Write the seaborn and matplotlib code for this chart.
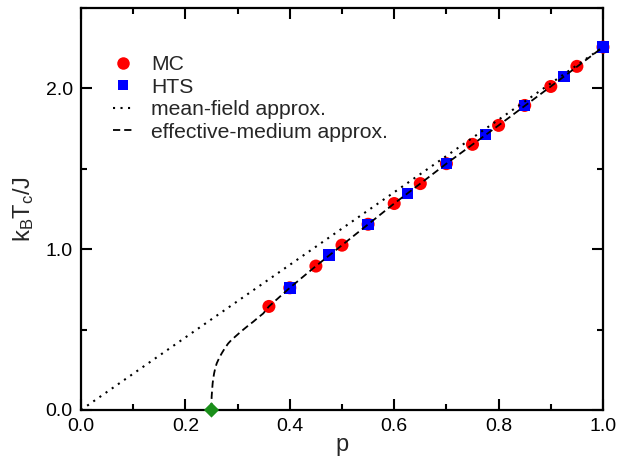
import numpy as np
import pandas as pd
import matplotlib
matplotlib.use("Agg")
import matplotlib.pyplot as plt
import seaborn as sns
from matplotlib.ticker import MultipleLocator, FormatStrFormatter
from matplotlib.lines import Line2D

# ---- data ----
mc_p = [0.36, 0.40, 0.45, 0.50, 0.55, 0.60, 0.65, 0.70, 0.75, 0.80, 0.85, 0.90, 0.95, 1.00]
mc_t = [0.644, 0.760, 0.895, 1.025, 1.155, 1.284, 1.408, 1.532, 1.652, 1.770, 1.894, 2.012, 2.137, 2.257]

hts_p = [0.40, 0.475, 0.55, 0.625, 0.70, 0.775, 0.85, 0.925, 1.00]
hts_t = [0.760, 0.963, 1.155, 1.346, 1.532, 1.712, 1.894, 2.075, 2.257]

mf_p = [0.0, 1.0]
mf_t = [0.0, 2.257]

ema_p = [0.248, 0.2500, 0.2503, 0.2512, 0.2522, 0.2535, 0.255, 0.2572, 0.260, 0.2645,
         0.2695, 0.2755, 0.282, 0.288, 0.295, 0.303, 0.311, 0.320, 0.330, 0.339, 0.349,
         0.36, 0.40, 0.45, 0.50, 0.60, 0.70, 0.80, 0.90, 1.00]
ema_t = [0.0, 0.040, 0.083, 0.125, 0.166, 0.198, 0.228, 0.260, 0.290, 0.322,
         0.352, 0.384, 0.414, 0.435, 0.455, 0.478, 0.500, 0.524, 0.549, 0.574, 0.600,
         0.644, 0.760, 0.895, 1.025, 1.284, 1.532, 1.770, 2.012, 2.257]

pc_p = [0.25]
pc_t = [0.0]

labels = ["MC", "HTS", "mean-field approx.", "effective-medium approx."]

# ---- style ----
sns.set_theme(style="ticks")
plt.rcParams['font.family'] = ['Liberation Sans', 'DejaVu Sans']
plt.rcParams['mathtext.default'] = 'regular'

fig = plt.figure(figsize=(6.17, 4.57), dpi=100)
ax = fig.add_axes([81/617, 1 - 410/457, (603 - 81)/617, (410 - 8)/457])

df_mf = pd.DataFrame({"p": mf_p, "t": mf_t})
df_ema = pd.DataFrame({"p": ema_p, "t": ema_t})
df_mc = pd.DataFrame({"p": mc_p, "t": mc_t})
df_hts = pd.DataFrame({"p": hts_p, "t": hts_t})
df_pc = pd.DataFrame({"p": pc_p, "t": pc_t})

MF_DASH = (1.0, 2.6)
EMA_DASH = (4.0, 2.2)

sns.lineplot(data=df_mf, x="p", y="t", ax=ax, color="black", lw=1.5,
             sort=False)
mf_line = ax.lines[-1]
mf_line.set_dashes(MF_DASH)
sns.lineplot(data=df_ema, x="p", y="t", ax=ax, color="black", lw=1.3,
             sort=False)
ema_line = ax.lines[-1]
ema_line.set_dashes(EMA_DASH)

sns.scatterplot(data=df_mc, x="p", y="t", ax=ax, color="#ff0000", marker="o",
                s=88, edgecolor="none", zorder=3, clip_on=False)
sns.scatterplot(data=df_hts, x="p", y="t", ax=ax, color="#0000ff", marker="s",
                s=68, edgecolor="none", zorder=4, clip_on=False)
sns.scatterplot(data=df_pc, x="p", y="t", ax=ax, color="#1a8f1a", marker="D",
                s=60, edgecolor="none", zorder=7, clip_on=False)
mf_line.set_zorder(6)
ema_line.set_zorder(6)

ax.set_xlim(0, 1.0)
ax.set_ylim(0, 2.5)
ax.xaxis.set_major_locator(MultipleLocator(0.2))
ax.xaxis.set_minor_locator(MultipleLocator(0.1))
ax.yaxis.set_major_locator(MultipleLocator(1.0))
ax.yaxis.set_minor_locator(MultipleLocator(0.5))
ax.xaxis.set_major_formatter(FormatStrFormatter('%.1f'))
ax.yaxis.set_major_formatter(FormatStrFormatter('%.1f'))

ax.tick_params(which="both", direction="in", top=True, right=True,
               width=1.5, colors="black", labelsize=14, pad=6)
ax.tick_params(which="major", length=8)
ax.tick_params(which="minor", length=4)
for s in ax.spines.values():
    s.set_linewidth(1.6)
    s.set_color("black")

ax.set_xlabel("p", fontsize=17, labelpad=-1)
ax.set_ylabel("k$_B$T$_c$/J", fontsize=17, labelpad=7)

handles = [
    Line2D([], [], color="#ff0000", marker="o", ls="none", markersize=9, markeredgewidth=0),
    Line2D([], [], color="#0000ff", marker="s", ls="none", markersize=7.5, markeredgewidth=0),
    Line2D([], [], color="black", lw=1.5, dashes=MF_DASH),
    Line2D([], [], color="black", lw=1.3, dashes=EMA_DASH),
]
ax.legend(handles, labels, loc="upper left", bbox_to_anchor=(0.061, 0.883),
          frameon=False, fontsize=15.2, handlelength=1.0, handletextpad=0.8,
          labelspacing=0.17, borderaxespad=0, borderpad=0)

fig.savefig("out.png", dpi=100)
